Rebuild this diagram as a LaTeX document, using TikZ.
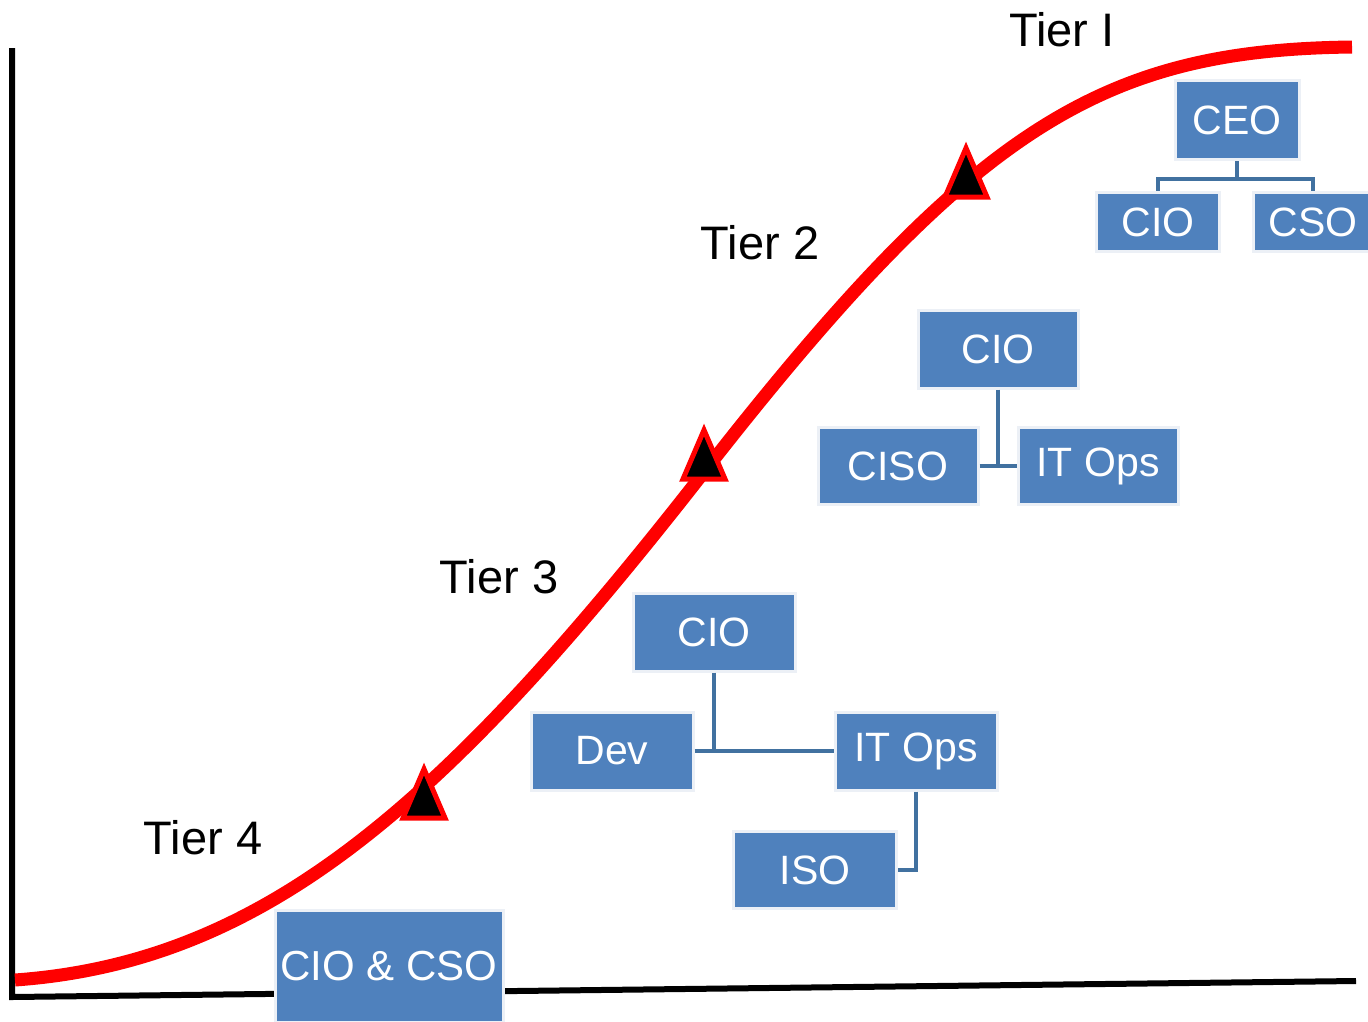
\documentclass[tikz,border=0pt]{standalone}
\usepackage{fontspec}
\setmainfont{Liberation Sans}
\definecolor{boxblue}{RGB}{79,129,189}
\definecolor{rimgray}{RGB}{236,240,246}
\definecolor{linkblue}{RGB}{65,113,160}

\begin{document}
\begin{tikzpicture}[x=1pt, y=-1pt,
    box/.style={fill=boxblue, draw=rimgray, line width=3pt, text=white, inner sep=0pt,
      font=\fontsize{41}{49}\selectfont},
    link/.style={draw=linkblue, line width=4pt},
    tier/.style={font=\fontsize{47}{56}\selectfont},
    trimark/.pic={\filldraw[fill=black, draw=red, line width=5pt] (0,-27) -- (-21,22) -- (21,22) -- cycle;}]
  \useasboundingbox (0,0) rectangle (1368,1021);

  % axes
  \coordinate (top) at (12,48);
  \coordinate (o) at (12,997);
  \coordinate (end) at (1356,981);
  \draw[line width=6pt] (top) -- (o) -- (end);

  % tier 1
  \node[box, minimum width=124, minimum height=79] (ceo) at (1237,120) {CEO};
  \node[box, minimum width=123, minimum height=59] (cioA) at (1158,222) {CIO};
  \node[box, minimum width=120, minimum height=59] (csoA) at (1313,222) {CSO};
  \draw[link] (ceo.south) -- ++(0,18) -| (cioA.north);
  \draw[link] (ceo.south) -- ++(0,18) -| (csoA.north);

  % tier 2
  \node[box, minimum width=160, minimum height=78] (cioB) at (998,349) {CIO};
  \node[box, minimum width=160, minimum height=77] (ciso) at (898,466) {CISO};
  \node[box, minimum width=160, minimum height=77] (opsB) at (1098,466) {IT Ops};
  \draw[link] (cioB.south) -- (cioB.south |- ciso.east);
  \draw[link] (ciso.east) -- (opsB.west);

  % tier 3
  \node[box, minimum width=162, minimum height=78] (cioC) at (714,632) {CIO};
  \node[box, minimum width=162, minimum height=78] (dev) at (612,751) {Dev};
  \node[box, minimum width=162, minimum height=78] (opsC) at (916,751) {IT Ops};
  \node[box, minimum width=163, minimum height=77] (iso) at (815,870) {ISO};
  \draw[link] (cioC.south) -- (cioC.south |- dev.east);
  \draw[link] (dev.east) -- (opsC.west);
  \draw[link] (opsC.south) |- (iso.east);

  % tier 4
  \node[box, minimum width=228, minimum height=112, font=\fontsize{42}{50}\selectfont] (both) at (389,966) {CIO \& CSO};

  % curve
  \coordinate (start) at (15,980);
  \coordinate (knee) at (704,472);
  \coordinate (stop) at (1352,47);
  \draw[red, line width=13pt] (start) .. controls (265,962) and (444,805) .. (knee)
    .. controls (974,126) and (1102,50) .. (stop);
  \coordinate (m1) at (966,175);
  \coordinate (m2) at (704,457);
  \coordinate (m3) at (424,796);
  \pic at (m1) {trimark};
  \pic at (m2) {trimark};
  \pic at (m3) {trimark};

  \node[tier] (t1) at (1062,30) {Tier I};
  \node[tier] (t2) at (760,243) {Tier 2};
  \node[tier] (t3) at (499,577) {Tier 3};
  \node[tier] (t4) at (203,838) {Tier 4};
\end{tikzpicture}
\end{document}
